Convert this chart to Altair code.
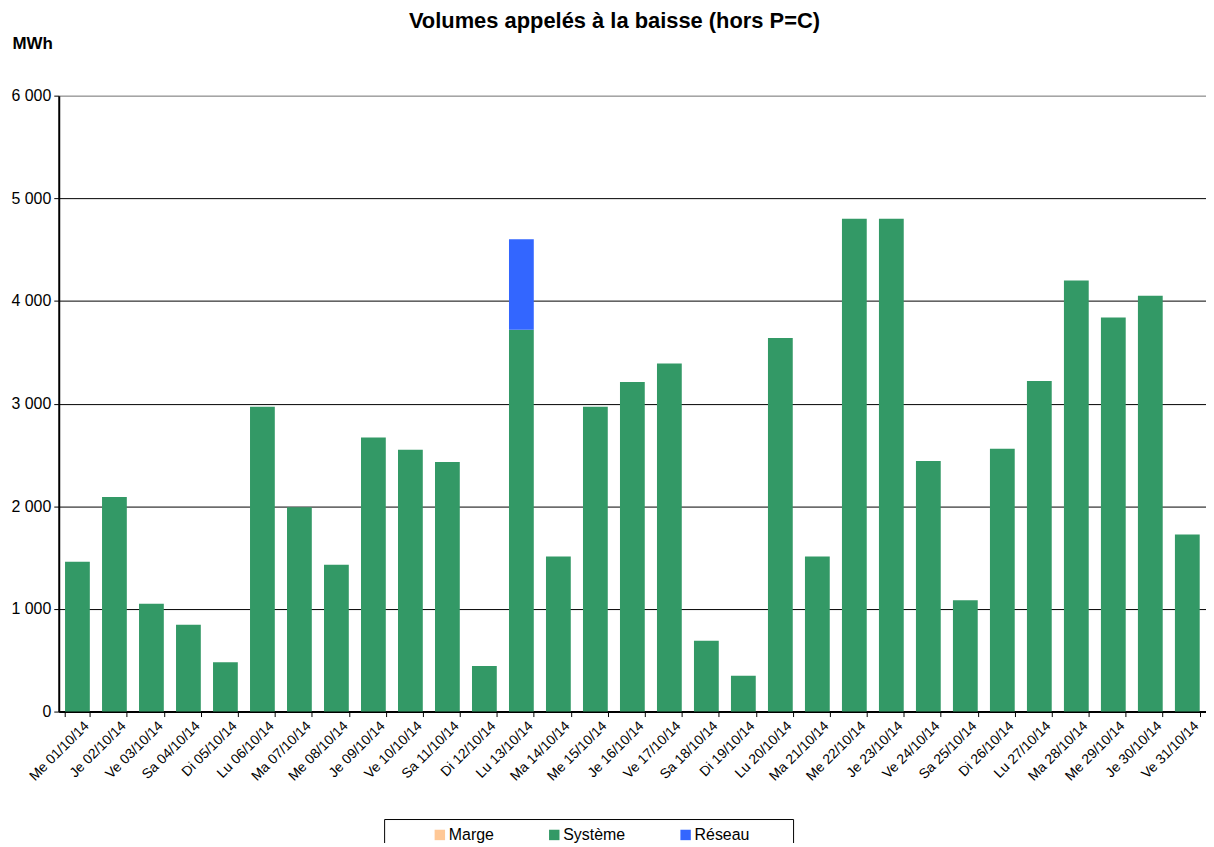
import altair as alt
import pandas as pd

dates = ["Me 01/10/14", "Je 02/10/14", "Ve 03/10/14", "Sa 04/10/14", "Di 05/10/14",
         "Lu 06/10/14", "Ma 07/10/14", "Me 08/10/14", "Je 09/10/14", "Ve 10/10/14",
         "Sa 11/10/14", "Di 12/10/14", "Lu 13/10/14", "Ma 14/10/14", "Me 15/10/14",
         "Je 16/10/14", "Ve 17/10/14", "Sa 18/10/14", "Di 19/10/14", "Lu 20/10/14",
         "Ma 21/10/14", "Me 22/10/14", "Je 23/10/14", "Ve 24/10/14", "Sa 25/10/14",
         "Di 26/10/14", "Lu 27/10/14", "Ma 28/10/14", "Me 29/10/14", "Je 30/10/14",
         "Ve 31/10/14"]

marge = [0] * 31
systeme = [1460, 2090, 1050, 845, 480, 2970, 1990, 1430, 2670, 2550,
           2430, 445, 3720, 1510, 2970, 3210, 3390, 690, 350, 3640,
           1510, 4800, 4800, 2440, 1085, 2560, 3220, 4200, 3840, 4050,
           1725]
reseau = [0] * 31
reseau[12] = 880

series = ["Marge", "Système", "Réseau"]
colors = ["#FFC896", "#339966", "#3366FF"]
y_ticks = [0, 1000, 2000, 3000, 4000, 5000, 6000]

rows = []
for i, d in enumerate(dates):
    for k, (name, vals) in enumerate(zip(series, [marge, systeme, reseau])):
        rows.append({"date": d, "serie": name, "valeur": vals[i], "ordre": [2, 0, 1][k]})
df = pd.DataFrame(rows)

FONT = "Liberation Sans"

chart = alt.Chart(df).mark_bar().encode(
    x=alt.X("date:N", sort=dates, title=None,
            scale=alt.Scale(paddingInner=0.33, paddingOuter=0.17),
            axis=alt.Axis(labelAngle=-45, labelAlign="right", labelBaseline="top",
                          labelFontSize=14, labelColor="black", labelFont=FONT,
                          labelPadding=2, labelOffset=4,
                          tickBand="extent", tickColor="black", tickSize=5, tickWidth=1,
                          domainColor="black", domainWidth=2, grid=False)),
    y=alt.Y("valeur:Q", stack="zero", title="MWh",
            scale=alt.Scale(domain=[0, 6000], nice=False),
            axis=alt.Axis(values=y_ticks,
                          labelExpr="replace(format(datum.value, ','), ',', ' ')",
                          labelFontSize=16, labelColor="black", labelFont=FONT,
                          labelPadding=3,
                          tickColor="black", tickSize=5, domainColor="black", domainWidth=2,
                          grid=True,
                          gridColor={"condition": {"test": "datum.value === 6000", "value": "#808080"},
                                     "value": "black"},
                          gridWidth=1,
                          titleAngle=0, titleX=-47, titleY=-52, titleAlign="left",
                          titleBaseline="middle", titleFontSize=17, titleFont=FONT,
                          titleFontWeight="bold", titleColor="black")),
    color=alt.Color("serie:N", title=" ",
                    scale=alt.Scale(domain=series, range=colors),
                    legend=alt.Legend(orient="none", legendX=327, legendY=727,
                                      direction="horizontal", columns=3,
                                      symbolType="square", symbolSize=110,
                                      symbolStrokeWidth=0, symbolOffset=40,
                                      labelFontSize=16, labelFont=FONT, labelColor="black",
                                      labelOffset=1, columnPadding=12,
                                      strokeColor="black", fillColor="white",
                                      padding=8, titleOrient="right", titlePadding=36,
                                      titleFontSize=10)),
    order=alt.Order("ordre:Q"),
).properties(
    width=1153,
    height=619,
    title=alt.TitleParams("Volumes appelés à la baisse (hors P=C)", anchor="middle",
                          frame="group", dx=-18, offset=2, fontSize=22, font=FONT,
                          fontWeight="bold", color="black"),
    padding={"left": 51, "top": 86, "right": 0, "bottom": 130},
    autosize=alt.AutoSizeParams(type="none"),
).configure_view(
    stroke="#808080", strokeWidth=2
).configure(background="white")

chart.save("out.html", embed_options={"renderer": "svg", "actions": False})
